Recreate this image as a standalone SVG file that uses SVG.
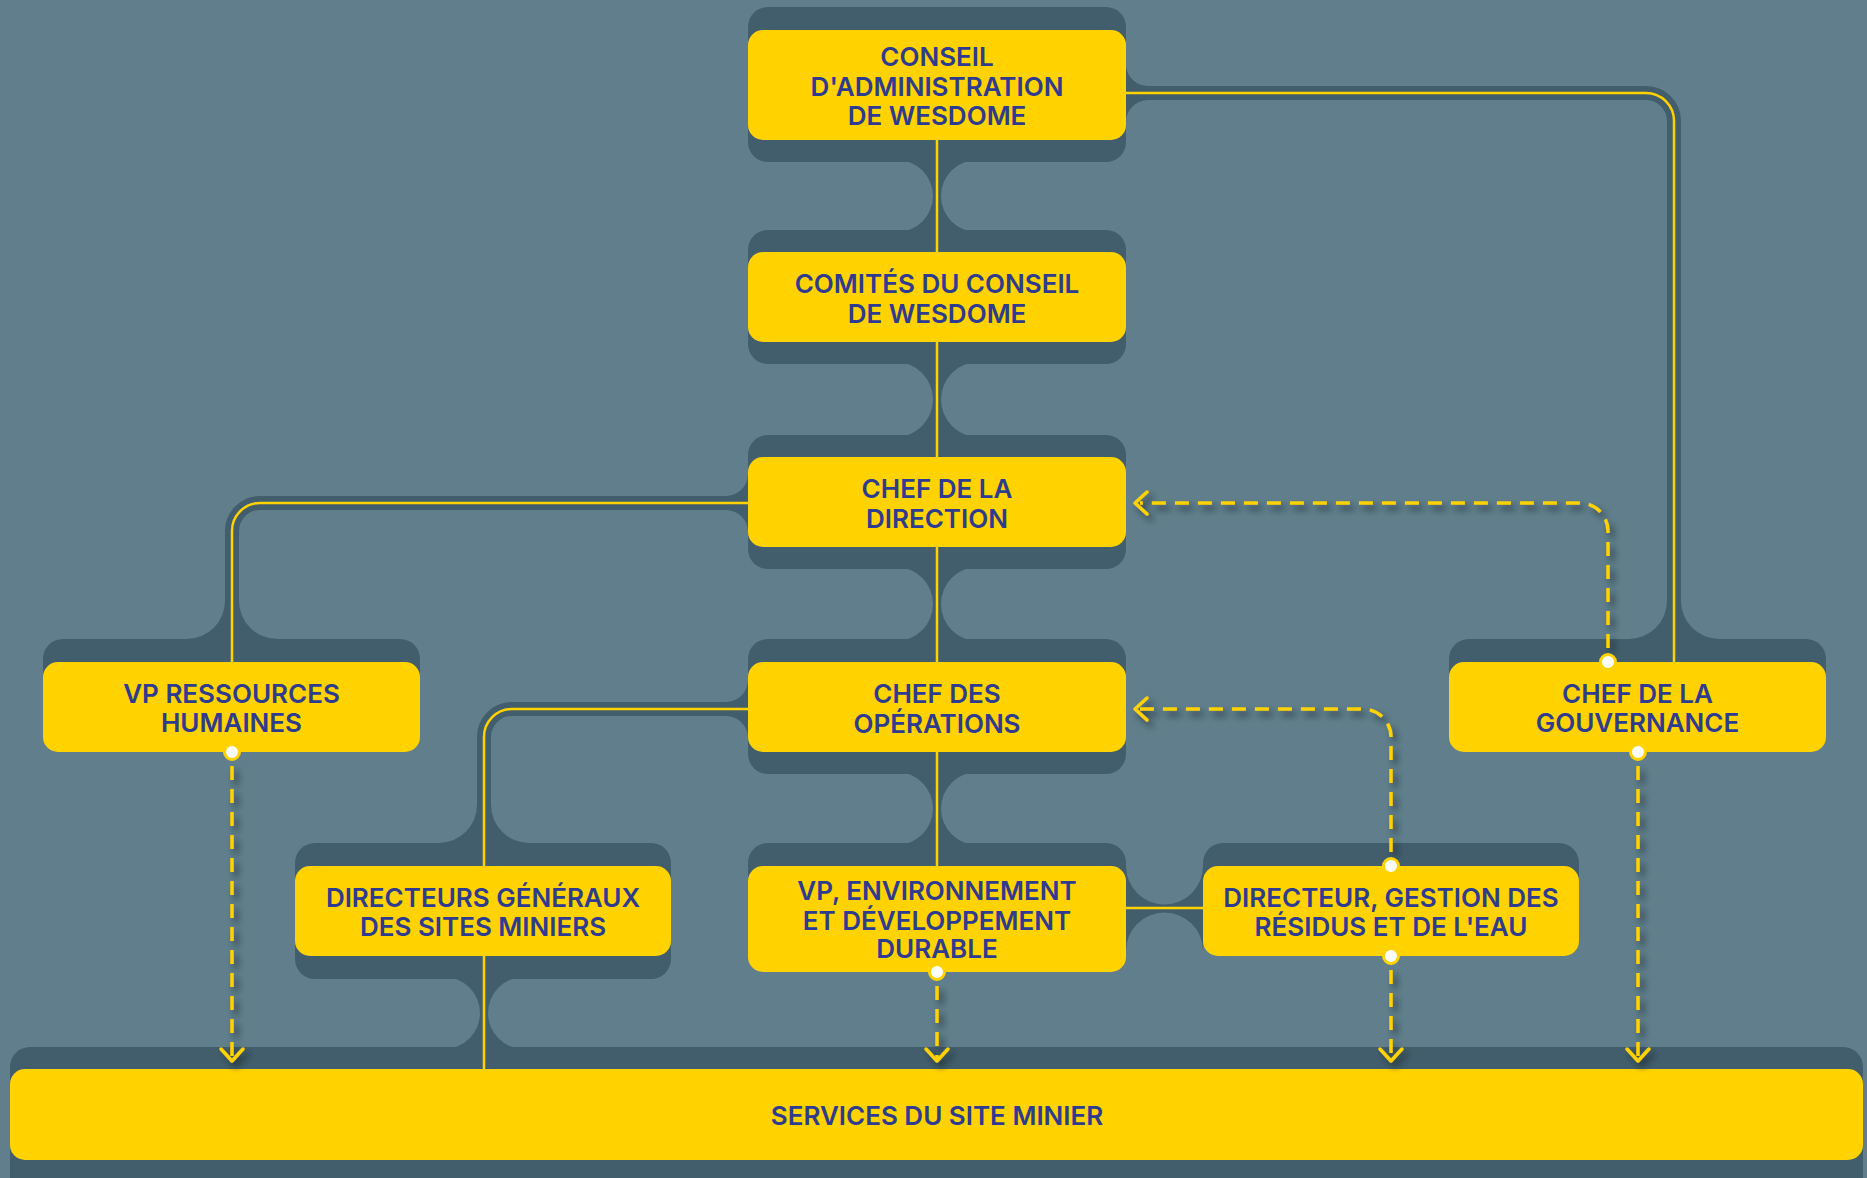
<svg xmlns="http://www.w3.org/2000/svg" width="1867" height="1178" viewBox="0 0 1867 1178">
<defs>
<style>
.sh{fill:#425e6c}
.box{fill:#ffd200}
.t{font-family:Inter,"Noto Sans","Liberation Sans",sans-serif;font-weight:600;font-size:26px;fill:#2e3b8f;text-anchor:middle}
.band{stroke:#425e6c;stroke-width:14;fill:none}
.dk{fill:#425e6c}
.ln{stroke:#ffd200;stroke-width:2.5;fill:none}
.dash{stroke:#ffd200;stroke-width:3.5;fill:none;stroke-dasharray:14 9}
.arr{stroke:#ffd200;stroke-width:3.5;fill:none;stroke-linecap:round;stroke-linejoin:round}
.dot{fill:#ffffff;stroke:#ffd200;stroke-width:3}
</style>
<filter id="ds" filterUnits="userSpaceOnUse" x="0" y="0" width="1867" height="1178">
<feDropShadow dx="4" dy="5" stdDeviation="3" flood-color="#1a262e" flood-opacity="0.75"/>
</filter>
</defs>
<rect x="0" y="0" width="1867" height="1178" fill="#607e8b"/>

<g id="connector-bands">
<path class="band" d="M1126 93 H1646 A28 28 0 0 1 1674 121 V662"/>
<path class="band" d="M748 503 H260 A28 28 0 0 0 232 531 V662"/>
<path class="band" d="M748 709 H512 A28 28 0 0 0 484 737 V866"/>
<path class="dk" d="M1126 66 A22 22 0 0 0 1148 86 L1126 86 Z"/>
<path class="dk" d="M1126 122 A22 22 0 0 1 1148 100 L1126 100 Z"/>
<path class="dk" d="M1629 639 A38 38 0 0 0 1667 601 L1667 639 Z"/>
<path class="dk" d="M1719 639 A38 38 0 0 1 1681 601 L1681 639 Z"/>
<path class="dk" d="M748 474 A22 22 0 0 1 726 496 L748 496 Z"/>
<path class="dk" d="M748 532 A22 22 0 0 0 726 510 L748 510 Z"/>
<path class="dk" d="M187 639 A38 38 0 0 0 225 601 L225 639 Z"/>
<path class="dk" d="M277 639 A38 38 0 0 1 239 601 L239 639 Z"/>
<path class="dk" d="M748 680 A22 22 0 0 1 726 702 L748 702 Z"/>
<path class="dk" d="M748 738 A22 22 0 0 0 726 716 L748 716 Z"/>
<path class="dk" d="M439 843 A38 38 0 0 0 477 805 L477 843 Z"/>
<path class="dk" d="M529 843 A38 38 0 0 1 491 805 L491 843 Z"/>
<path class="dk" d="M897 160 H977 A34 34 0 0 0 977 232 H897 A34 34 0 0 0 897 160 Z"/>
<path class="dk" d="M895.5 362 H978.5 A35.5 35.5 0 0 0 978.5 437 H895.5 A35.5 35.5 0 0 0 895.5 362 Z"/>
<path class="dk" d="M896 567 H978 A35 35 0 0 0 978 641 H896 A35 35 0 0 0 896 567 Z"/>
<path class="dk" d="M896.5 772 H977.5 A34.5 34.5 0 0 0 977.5 845 H896.5 A34.5 34.5 0 0 0 896.5 772 Z"/>
<path class="dk" d="M444 977 H524 A34 34 0 0 0 524 1049 H444 A34 34 0 0 0 444 977 Z"/>
<path class="dk" d="M1126 866 A38.5 38.5 0 0 0 1203 866 L1203 951 A38.5 38.5 0 0 0 1126 951 Z"/>
</g>

<g id="node-conseil">
<rect class="sh" x="748" y="7" width="378" height="155" rx="20"/>
<rect class="box" x="748" y="30" width="378" height="110" rx="15"/>
<text class="t" x="937" y="66">CONSEIL</text>
<text class="t" x="937" y="96">D'ADMINISTRATION</text>
<text class="t" x="937" y="125">DE WESDOME</text>
</g>
<g id="node-comites">
<rect class="sh" x="748" y="230" width="378" height="134" rx="20"/>
<rect class="box" x="748" y="252" width="378" height="90" rx="15"/>
<text class="t" x="937" y="293">COMITÉS DU CONSEIL</text>
<text class="t" x="937" y="323">DE WESDOME</text>
</g>
<g id="node-chef-direction">
<rect class="sh" x="748" y="435" width="378" height="134" rx="20"/>
<rect class="box" x="748" y="457" width="378" height="90" rx="15"/>
<text class="t" x="937" y="498">CHEF DE LA</text>
<text class="t" x="937" y="528">DIRECTION</text>
</g>
<g id="node-chef-operations">
<rect class="sh" x="748" y="639" width="378" height="135" rx="20"/>
<rect class="box" x="748" y="662" width="378" height="90" rx="15"/>
<text class="t" x="937" y="703">CHEF DES</text>
<text class="t" x="937" y="733">OPÉRATIONS</text>
</g>
<g id="node-vp-rh">
<rect class="sh" x="43" y="639" width="377" height="60" rx="20"/>
<rect class="box" x="43" y="662" width="377" height="90" rx="15"/>
<text class="t" x="231.5" y="703">VP RESSOURCES</text>
<text class="t" x="231.5" y="732">HUMAINES</text>
</g>
<g id="node-gouvernance">
<rect class="sh" x="1449" y="639" width="377" height="60" rx="20"/>
<rect class="box" x="1449" y="662" width="377" height="90" rx="15"/>
<text class="t" x="1637.5" y="703">CHEF DE LA</text>
<text class="t" x="1637.5" y="732">GOUVERNANCE</text>
</g>
<g id="node-directeurs-generaux">
<rect class="sh" x="295" y="843" width="376" height="136" rx="20"/>
<rect class="box" x="295" y="866" width="376" height="90" rx="15"/>
<text class="t" x="483" y="907">DIRECTEURS GÉNÉRAUX</text>
<text class="t" x="483" y="936">DES SITES MINIERS</text>
</g>
<g id="node-vp-environnement">
<rect class="sh" x="748" y="843" width="378" height="60" rx="20"/>
<rect class="box" x="748" y="866" width="378" height="106" rx="15"/>
<text class="t" x="937" y="900">VP, ENVIRONNEMENT</text>
<text class="t" x="937" y="930">ET DÉVELOPPEMENT</text>
<text class="t" x="937" y="958">DURABLE</text>
</g>
<g id="node-directeur-residus">
<rect class="sh" x="1203" y="843" width="376" height="60" rx="20"/>
<rect class="box" x="1203" y="866" width="376" height="90" rx="15"/>
<text class="t" x="1391" y="907">DIRECTEUR, GESTION DES</text>
<text class="t" x="1391" y="936">RÉSIDUS ET DE L'EAU</text>
</g>
<g id="node-services">
<rect class="sh" x="10" y="1047" width="1853" height="160" rx="20"/>
<rect class="box" x="10" y="1069" width="1853" height="91" rx="15"/>
<text class="t" x="937" y="1125">SERVICES DU SITE MINIER</text>
</g>

<g id="connectors">
<path class="ln" d="M937 140 V252 M937 342 V457 M937 547 V662 M937 752 V866"/>
<path class="ln" d="M1126 93 H1646 A28 28 0 0 1 1674 121 V662"/>
<path class="ln" d="M748 503 H260 A28 28 0 0 0 232 531 V662"/>
<path class="ln" d="M748 709 H512 A28 28 0 0 0 484 737 V866 M484 956 V1069"/>
<path class="ln" d="M1126 908 H1203"/>
<g filter="url(#ds)">
<path class="dash" d="M1608 648 V531 A28 28 0 0 0 1580 503 H1140"/>
<path class="dash" d="M1391 852 V737 A28 28 0 0 0 1363 709 H1140"/>
<path class="dash" d="M232 766 V1058"/>
<path class="dash" d="M937 986 V1058"/>
<path class="dash" d="M1391 970 V1058"/>
<path class="dash" d="M1638 766 V1058"/>
<path class="arr" d="M1147 492 L1135 503 L1147 514"/>
<path class="arr" d="M1147 698 L1135 709 L1147 720"/>
<path class="arr" d="M221 1049 L232 1061 L243 1049"/>
<path class="arr" d="M926 1049 L937 1061 L948 1049"/>
<path class="arr" d="M1380 1049 L1391 1061 L1402 1049"/>
<path class="arr" d="M1627 1049 L1638 1061 L1649 1049"/>
</g>
<circle class="dot" cx="1608" cy="662" r="7.5"/>
<circle class="dot" cx="1391" cy="866" r="7.5"/>
<circle class="dot" cx="232" cy="752" r="7.5"/>
<circle class="dot" cx="937" cy="972" r="7.5"/>
<circle class="dot" cx="1391" cy="956" r="7.5"/>
<circle class="dot" cx="1638" cy="752" r="7.5"/>
</g>
</svg>
